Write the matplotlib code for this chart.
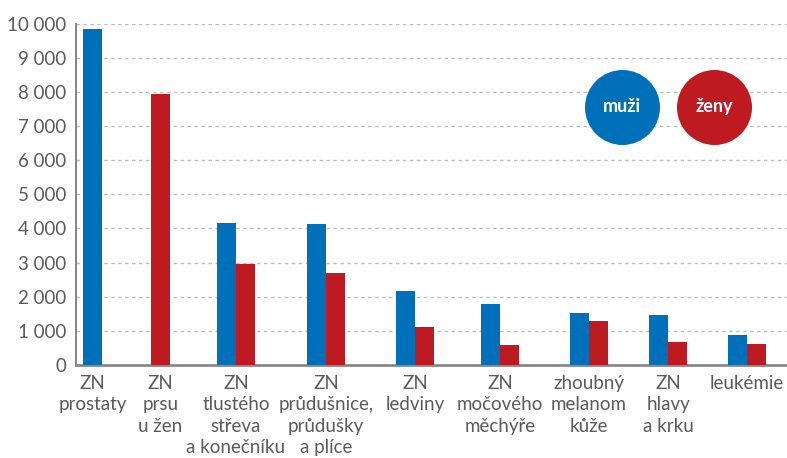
import matplotlib
matplotlib.use("Agg")
import matplotlib.pyplot as plt
import numpy as np

categories = [
    "ZN\nprostaty",
    "ZN\nprsu\nu žen",
    "ZN\ntlustého\nstřeva\na konečníku",
    "ZN\nprůdušnice,\nprůdušky\na plíce",
    "ZN\nledviny",
    "ZN\nmočového\nměchýře",
    "zhoubný\nmelanom\nkůže",
    "ZN\nhlavy\na krku",
    "leukémie",
]
muzi = [9850, np.nan, 4160, 4130, 2170, 1790, 1520, 1470, 880]
zeny = [np.nan, 7950, 2960, 2700, 1110, 590, 1290, 670, 620]
yticks = [0, 1000, 2000, 3000, 4000, 5000, 6000, 7000, 8000, 9000, 10000]
ytick_labels = ["0", "1 000", "2 000", "3 000", "4 000", "5 000",
                "6 000", "7 000", "8 000", "9 000", "10 000"]

BLUE = "#0070ba"
RED = "#be1a22"
GREY = "#5a5a5a"

# group centres in pixel-like units (the original spaces groups unevenly)
centers = [92.5, 160.5, 236, 326, 415, 500, 589, 668, 747]
bar_w = 19

plt.rcParams["font.family"] = ["Lato", "DejaVu Sans"]

fig = plt.figure(figsize=(7.87, 4.58), dpi=100)
ax = fig.add_axes([76 / 787, (458 - 365) / 458, 711 / 787, (365 - 23.7) / 458])

for c, m, z in zip(centers, muzi, zeny):
    if np.isnan(m):
        ax.bar(c, z, width=bar_w, color=RED, zorder=3)
    elif np.isnan(z):
        ax.bar(c, m, width=bar_w, color=BLUE, zorder=3)
    else:
        ax.bar(c - bar_w / 2, m, width=bar_w, color=BLUE, zorder=3)
        ax.bar(c + bar_w / 2, z, width=bar_w, color=RED, zorder=3)

ax.set_xlim(76, 787)
ax.set_ylim(0, 10000)
ax.set_yticks(yticks)
ax.set_yticklabels(ytick_labels, fontsize=13.5, color=GREY)
ax.set_xticks(centers)
ax.set_xticklabels(categories, fontsize=13.5, color=GREY, linespacing=1.32)
ax.tick_params(axis="both", length=0)
ax.tick_params(axis="y", pad=7)
ax.tick_params(axis="x", pad=7)

ax.grid(axis="y", color="#bdbdbd", linestyle=(0, (2.5, 2.5)), linewidth=1, zorder=0)
for s in ["top", "right"]:
    ax.spines[s].set_visible(False)
ax.spines["left"].set_color("#888888")
ax.spines["left"].set_linewidth(1.5)
ax.spines["bottom"].set_color("#888888")
ax.spines["bottom"].set_linewidth(2)

# legend circles
for xa, col, lab in [(0.7675, BLUE, "muži"), (0.8977, RED, "ženy")]:
    ax.scatter([xa], [0.757], s=54 ** 2, color=col, transform=ax.transAxes,
               zorder=5, clip_on=False, linewidths=0)
    ax.text(xa, 0.757, lab, transform=ax.transAxes, ha="center", va="center",
            color="white", fontsize=13, fontweight="bold", zorder=6)

fig.savefig("out.png", dpi=100)
